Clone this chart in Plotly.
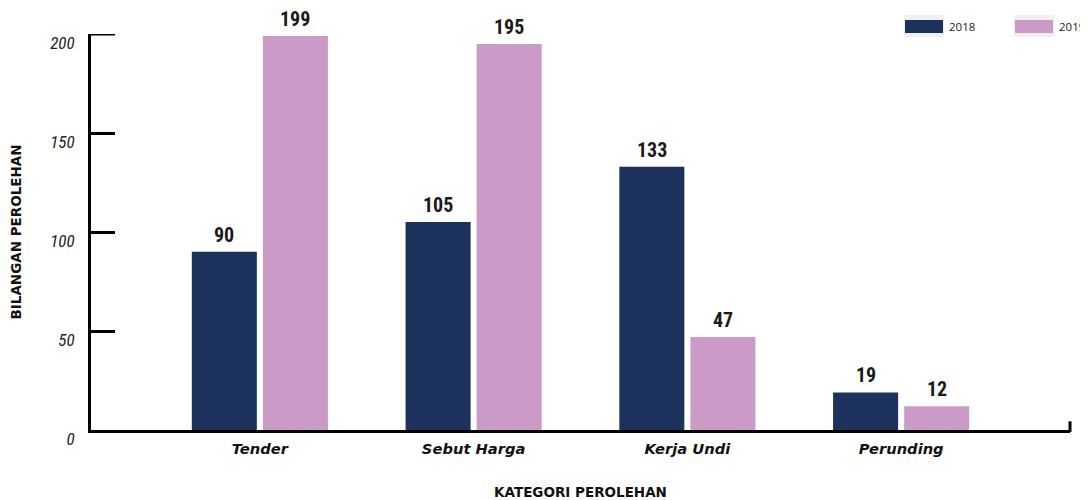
import plotly.graph_objects as go

categories = ["Tender", "Sebut Harga", "Kerja Undi", "Perunding"]
values_2018 = [90, 105, 133, 19]
values_2019 = [199, 195, 47, 12]
series_names = ["2018", "2019"]
y_ticks = [0, 50, 100, 150, 200]
colors = ["#1c325c", "#cb9ac6"]

cond = "Roboto Condensed"
label_font = dict(family=cond, size=20, color="#1a1a1a", weight=700)

# the page body adds an 8px offset, so the figure is 8px smaller than the window
W, H = 1080, 492
ML, MR, MT, MB = 83, 18, 26, 70
PW = W - ML - MR
PH = H - MT - MB
TICKLEN = 24
XRANGE = [-0.79, 3.79]
BARGAP = 0.335

fig = go.Figure()
all_series = [values_2018, values_2019]
for name, vals, col in zip(series_names, all_series, colors):
    fig.add_trace(go.Bar(
        x=categories, y=vals, name=name, marker=dict(color=col, line=dict(width=0)),
        showlegend=False,
    ))

# value labels above each bar, placed on the bar's category/value and shifted to its slot
cat_px = PW / (XRANGE[1] - XRANGE[0])
slot_px = (1 - BARGAP) * cat_px / len(all_series)
for i, vals in enumerate(all_series):
    dx = (i - (len(all_series) - 1) / 2) * slot_px
    for c, v in zip(categories, vals):
        fig.add_annotation(x=c, y=v, xref="x", yref="y", text=str(v), showarrow=False,
                           xanchor="center", yanchor="bottom", xshift=dx, yshift=3,
                           font=label_font)

fig.update_layout(
    width=W, height=H,
    margin=dict(l=ML, r=MR, t=MT, b=MB, autoexpand=False),
    paper_bgcolor="white", plot_bgcolor="white",
    barmode="group", bargap=BARGAP, bargroupgap=0.085,
    xaxis=dict(
        range=XRANGE, showgrid=False, zeroline=False, automargin=False,
        showline=True, linecolor="black", linewidth=3,
        ticks="", ticklabelstandoff=3,
        tickfont=dict(family="DejaVu Sans", size=14.7, color="#111111", weight=700, style="italic"),
        title=dict(text="KATEGORI PEROLEHAN", standoff=33,
                   font=dict(family="DejaVu Sans", size=13.5, color="#111111", weight=700)),
    ),
    yaxis=dict(
        range=[0, 200], tickvals=y_ticks, showgrid=False, zeroline=False, automargin=False,
        showline=True, linecolor="black", linewidth=3,
        ticks="inside", ticklen=TICKLEN, tickwidth=3, tickcolor="black",
        ticklabelstandoff=10, ticklabelshift=9,
        tickfont=dict(family=cond, size=17, color="#222222", style="italic", weight=400),
        title=dict(text="BILANGAN PEROLEHAN", standoff=26,
                   font=dict(family="DejaVu Sans", size=13.5, color="#111111", weight=700)),
    ),
)

# top tick (plotly drops the tick sitting on the plot edge)
fig.add_shape(type="line", xref="paper", yref="y", x0=0, x1=TICKLEN / PW, y0=y_ticks[-1], y1=y_ticks[-1],
              line=dict(color="black", width=3))

# right-end tick of x axis
fig.add_shape(type="line", xref="paper", yref="paper", x0=1, x1=1, y0=-0.005, y1=0.022,
              line=dict(color="black", width=3))

# custom legend (screen px positions converted to paper coords)
legend_x = [905, 1015]
for name, col, lx in zip(series_names, colors, legend_x):
    x0 = (lx - 8 - ML) / PW
    x1 = (lx + 38 - 8 - ML) / PW
    y0 = (PH + MT - (33 - 8)) / PH
    y1 = (PH + MT - (20 - 8)) / PH
    fig.add_shape(type="rect", xref="paper", yref="paper", x0=x0 - 1 / PW, x1=x1 + 1 / PW,
                  y0=y0 - 4 / PH, y1=y1 + 5 / PH, fillcolor="#f0f0f0", line=dict(width=0), layer="below")
    fig.add_shape(type="rect", xref="paper", yref="paper", x0=x0, x1=x1, y0=y0, y1=y1,
                  fillcolor=col, line=dict(width=0))
    fig.add_annotation(xref="paper", yref="paper", x=x1 + 4 / PW, y=(y0 + y1) / 2,
                       xanchor="left", yanchor="middle", text=name, showarrow=False,
                       font=dict(family="Open Sans", size=11.5, color="#222222"))

fig.write_html("out.html")
